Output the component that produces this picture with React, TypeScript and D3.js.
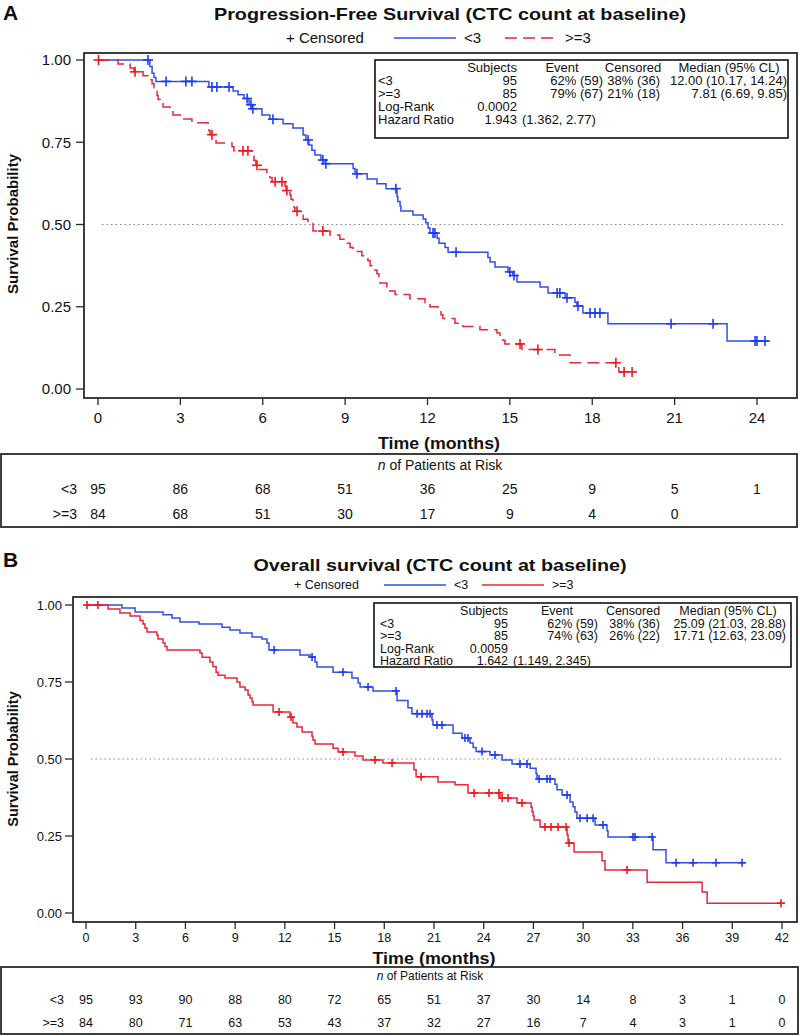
import React from 'react';
import * as d3 from 'd3';

// ---------------- DATA ----------------
// Panel A: Progression-free survival. Steps are [time (months), survival after drop]
const pfsLowSteps: [number, number][] = [
  [1.89, 0.98], [1.97, 0.96], [2.04, 0.947], [2.11, 0.935], [4.04, 0.918], [4.92, 0.906], [5.1, 0.894],
  [5.32, 0.883], [5.5, 0.864], [5.61, 0.852], [5.97, 0.833], [6.26, 0.82], [6.74, 0.806], [7.1, 0.793],
  [7.47, 0.772], [7.57, 0.757], [7.68, 0.742], [7.79, 0.726], [7.9, 0.711], [8.12, 0.696], [8.27, 0.685],
  [9.29, 0.67], [9.36, 0.654], [9.8, 0.638], [10.16, 0.624], [10.49, 0.609], [10.89, 0.584], [10.92, 0.57],
  [11.0, 0.556], [11.03, 0.541], [11.47, 0.529], [11.84, 0.517], [11.94, 0.505], [12.02, 0.489],
  [12.09, 0.474], [12.35, 0.458], [12.42, 0.443], [12.64, 0.43], [12.75, 0.416], [14.2, 0.4], [14.28, 0.386],
  [14.46, 0.371], [14.93, 0.356], [15.11, 0.345], [15.26, 0.325], [16.1, 0.31], [16.39, 0.292],
  [17.01, 0.277], [17.37, 0.264], [17.44, 0.252], [17.66, 0.231], [18.57, 0.198], [22.91, 0.146],
];
const pfsLowCensor: number[] = [
  1.82, 2.48, 3.2, 3.42, 4.15, 4.33, 4.77, 5.43, 5.57, 5.64, 6.37, 7.65, 8.19, 8.3, 9.43, 10.85, 12.2, 12.27,
  13.04, 15.0, 15.15, 16.72, 16.82, 17.08, 17.48, 17.92, 18.1, 18.28, 20.87, 22.4, 23.93, 24.0, 24.29,
];
const pfsLowEnd = 24.4;

const pfsHighSteps: [number, number][] = [
  [0.73, 0.988], [1.17, 0.976], [1.31, 0.964], [1.64, 0.952], [1.82, 0.94], [1.97, 0.928], [2.04, 0.916],
  [2.08, 0.904], [2.15, 0.892], [2.19, 0.88], [2.26, 0.868], [2.37, 0.857], [2.62, 0.845], [2.73, 0.833],
  [3.06, 0.821], [3.42, 0.809], [4.01, 0.797], [4.04, 0.785], [4.08, 0.773], [4.26, 0.76], [4.3, 0.748],
  [4.88, 0.736], [4.95, 0.724], [5.61, 0.708], [5.68, 0.695], [5.75, 0.68], [5.83, 0.667], [6.15, 0.655],
  [6.26, 0.643], [6.34, 0.63], [6.81, 0.617], [6.85, 0.603], [6.99, 0.59], [7.03, 0.577], [7.1, 0.564],
  [7.14, 0.552], [7.17, 0.54], [7.36, 0.528], [7.47, 0.516], [7.65, 0.504], [7.83, 0.48], [8.45, 0.468],
  [8.81, 0.455], [8.99, 0.443], [9.18, 0.43], [9.29, 0.418], [9.61, 0.405], [9.83, 0.39], [9.91, 0.375],
  [9.98, 0.362], [10.16, 0.35], [10.23, 0.335], [10.27, 0.322], [10.52, 0.31], [10.63, 0.298],
  [10.82, 0.287], [11.36, 0.274], [11.91, 0.262], [12.09, 0.25], [12.38, 0.238], [12.49, 0.226],
  [12.56, 0.214], [13.0, 0.2], [13.29, 0.19], [13.91, 0.18], [14.53, 0.17], [14.64, 0.16], [14.75, 0.148],
  [14.82, 0.137], [15.44, 0.12], [16.64, 0.103], [17.19, 0.08], [18.97, 0.052],
];
const pfsHighCensor: number[] = [
  0.02, 1.35, 4.15, 5.28, 5.46, 5.79, 6.45, 6.7, 6.88, 7.25, 8.19, 15.37, 16.02, 18.86, 19.16, 19.45,
];
const pfsHighEnd = 19.48;

// Panel B: Overall survival
const osLowSteps: [number, number][] = [
  [2.17, 0.99], [2.96, 0.977], [4.65, 0.968], [5.19, 0.958], [5.67, 0.945], [6.82, 0.938], [8.21, 0.928],
  [8.69, 0.919], [9.29, 0.909], [10.02, 0.896], [10.62, 0.89], [10.92, 0.877], [11.04, 0.854],
  [12.91, 0.838], [13.52, 0.831], [13.82, 0.815], [13.94, 0.799], [14.91, 0.782], [16.05, 0.763],
  [16.42, 0.747], [16.54, 0.734], [17.32, 0.721], [18.77, 0.69], [19.43, 0.666], [19.67, 0.647],
  [20.88, 0.627], [20.94, 0.61], [22.15, 0.584], [22.69, 0.568], [23.17, 0.552], [23.36, 0.537],
  [23.54, 0.524], [24.38, 0.513], [25.11, 0.497], [25.71, 0.484], [26.8, 0.47], [27.16, 0.452],
  [27.22, 0.435], [28.3, 0.418], [28.42, 0.4], [28.73, 0.383], [29.21, 0.36], [29.39, 0.345],
  [29.51, 0.328], [29.63, 0.308], [30.72, 0.286], [31.44, 0.267], [31.5, 0.247], [34.22, 0.205],
  [35.0, 0.163],
];
const osLowCensor: number[] = [
  11.35, 13.64, 15.51, 17.02, 18.71, 19.98, 20.28, 20.58, 20.76, 21.18, 21.48, 22.87, 23.05, 23.9, 24.68,
  26.19, 26.61, 27.34, 27.82, 28.0, 29.03, 29.81, 30.24, 30.6, 31.2, 33.01, 33.13, 34.16, 35.61, 36.63,
  38.02, 39.59,
];
const osLowEnd = 39.77;

const osHighSteps: [number, number][] = [
  [1.33, 0.987], [2.05, 0.974], [2.66, 0.964], [3.26, 0.95], [3.44, 0.938], [3.56, 0.925], [3.68, 0.912],
  [4.28, 0.902], [4.35, 0.89], [4.65, 0.877], [4.77, 0.865], [4.89, 0.854], [6.88, 0.844], [7.0, 0.83],
  [7.48, 0.815], [7.66, 0.8], [7.85, 0.782], [7.97, 0.772], [8.39, 0.763], [9.11, 0.75], [9.29, 0.734],
  [9.6, 0.724], [9.78, 0.708], [9.9, 0.698], [10.02, 0.686], [10.08, 0.675], [11.29, 0.653],
  [12.31, 0.636], [12.49, 0.617], [12.73, 0.604], [13.04, 0.588], [13.64, 0.574], [13.7, 0.562],
  [13.82, 0.549], [14.91, 0.535], [15.21, 0.523], [16.23, 0.51], [16.72, 0.497], [17.92, 0.487],
  [19.79, 0.465], [19.92, 0.442], [21.24, 0.425], [22.27, 0.416], [23.05, 0.39], [24.98, 0.373],
  [26.01, 0.357], [26.86, 0.343], [26.92, 0.329], [26.98, 0.316], [27.04, 0.302], [27.4, 0.279],
  [29.03, 0.253], [29.09, 0.227], [29.45, 0.198], [31.14, 0.17], [31.32, 0.14], [33.86, 0.1],
  [37.18, 0.068], [37.48, 0.032],
];
const osHighCensor: number[] = [
  0.06, 0.72, 11.65, 12.37, 15.51, 17.44, 18.47, 20.22, 23.42, 24.32, 24.92, 25.11, 25.47, 26.31, 27.7,
  28.06, 28.49, 28.97, 29.15, 32.65, 41.94,
];
const osHighEnd = 41.94;

// Tick labels / risk tables
const pfsTicks = [0, 3, 6, 9, 12, 15, 18, 21, 24];
const osTicks = [0, 3, 6, 9, 12, 15, 18, 21, 24, 27, 30, 33, 36, 39, 42];
const yTicks = [0, 0.25, 0.5, 0.75, 1.0];
const groups = ['<3', '>=3'];
const pfsRiskLow = [95, 86, 68, 51, 36, 25, 9, 5, 1];
const pfsRiskHigh = [84, 68, 51, 30, 17, 9, 4, 0];
const osRiskLow = [95, 93, 90, 88, 80, 72, 65, 51, 37, 30, 14, 8, 3, 1, 0];
const osRiskHigh = [84, 80, 71, 63, 53, 43, 37, 32, 27, 16, 7, 4, 3, 1, 0];

// Summary statistics
const statsHeader = ['Subjects', 'Event', 'Censored', 'Median (95% CL)'];
const pfsStats = [
  ['<3', '95', '62% (59)', '38% (36)', '12.00 (10.17, 14.24)'],
  ['>=3', '85', '79% (67)', '21% (18)', '7.81 (6.69, 9.85)'],
];
const pfsLogRank = '0.0002';
const pfsHR = ['1.943', '(1.362, 2.77)'];
const osStats = [
  ['<3', '95', '62% (59)', '38% (36)', '25.09 (21.03, 28.88)'],
  ['>=3', '85', '74% (63)', '26% (22)', '17.71 (12.63, 23.09)'],
];
const osLogRank = '0.0059';
const osHR = ['1.642', '(1.149, 2.345)'];

// ---------------- STYLE ----------------
const BLUE = '#3050e4';
const RED = '#e62838';
const BLUE_M = '#1f3cf0';
const RED_M = '#f01818';
const SANS = "'Liberation Sans', Arial, Helvetica, sans-serif";
const NARROW = "'Liberation Sans Narrow', 'Arial Narrow', 'Liberation Sans', Arial, sans-serif";
const FRAME = '#2a2a2a';

function survivalAt(steps: [number, number][], t: number) {
  let s = 1;
  for (const [ts, v] of steps) if (ts <= t + 1e-9) s = v;
  return s;
}

type Curve = { steps: [number, number][]; censor: number[]; end: number; color: string; mark: string; dash?: string };

function Panel(p: any) {
  const x = d3.scaleLinear().domain([0, p.xMax]).range(p.xRange);
  const y = d3.scaleLinear().domain([0, 1]).range(p.yRange);
  const [fx0, fy0, fx1, fy1] = p.frame;
  const line = d3
    .line<[number, number]>()
    .x((d) => x(d[0]))
    .y((d) => y(d[1]))
    .curve(d3.curveStepAfter);
  const st = p.stats;
  const [lx0, lx1, lx2, lx3, lx4] = p.legendX;
  return (
    <g>
      <text x={3} y={p.letterY} fontFamily={SANS} fontWeight="bold" fontSize={21} fill="#111">{p.letter}</text>
      <text x={p.titleX} y={p.titleY} textAnchor="middle" fontFamily={SANS} fontWeight="bold" fontSize={p.titleSize}
        textLength={p.titleLen} lengthAdjust="spacingAndGlyphs" fill="#111">{p.title}</text>
      {/* legend */}
      <text x={lx0} y={p.legendY} dy="0.35em" fontFamily={SANS} fontSize={p.legendSize} fill="#111">+ Censored</text>
      <line x1={lx1} x2={lx1 + 62} y1={p.legendY} y2={p.legendY} stroke={BLUE} strokeWidth={1.6} />
      <text x={lx2} y={p.legendY} dy="0.35em" fontFamily={SANS} fontSize={p.legendSize} fill="#111">{groups[0]}</text>
      <line x1={lx3} x2={lx3 + (p.legendDash ? 50 : 62)} y1={p.legendY} y2={p.legendY} stroke={RED} strokeWidth={1.6}
        strokeDasharray={p.legendDash ? '12,6' : undefined} />
      <text x={lx4} y={p.legendY} dy="0.35em" fontFamily={SANS} fontSize={p.legendSize} fill="#111">{groups[1]}</text>

      {/* frame */}
      <rect x={fx0} y={fy0} width={fx1 - fx0} height={fy1 - fy0} fill="none" stroke={FRAME} strokeWidth={1.8} />
      {/* y axis */}
      {yTicks.map((t) => (
        <g key={'y' + t}>
          <line x1={fx0 - p.yTickLen} x2={fx0} y1={y(t)} y2={y(t)} stroke={FRAME} strokeWidth={1.3} />
          <text x={p.yLabelRight} y={y(t)} dy="0.36em" textAnchor="end" fontFamily={SANS} fontSize={p.ySize} fill="#111">
            {t.toFixed(2)}
          </text>
        </g>
      ))}
      <text transform={`translate(13,${p.ylabY}) rotate(-90)`} textAnchor="middle" dy="0.35em" fontFamily={SANS}
        fontWeight="bold" fontSize={p.ylabSize} fill="#111">Survival Probability</text>
      {/* x axis */}
      {p.ticks.map((t: number) => (
        <g key={'x' + t}>
          <line x1={x(t)} x2={x(t)} y1={fy1} y2={fy1 + 7} stroke={FRAME} strokeWidth={1.3} />
          <text x={x(t)} y={p.tickLabelY} dy="0.36em" textAnchor="middle" fontFamily={p.tickFont} fontSize={p.tickSize} fill="#111">{t}</text>
        </g>
      ))}
      <text x={p.timeX} y={p.timeY} textAnchor="middle" dy="0.35em" fontFamily={SANS} fontWeight="bold" fontSize={p.timeSize}
        textLength={p.timeLen} lengthAdjust="spacingAndGlyphs" fill="#111">Time (months)</text>

      {/* reference line */}
      <line x1={p.dotted[0]} x2={p.dotted[1]} y1={y(0.5)} y2={y(0.5)} stroke="#888" strokeWidth={1.2} strokeDasharray="1.5,3" />

      {/* curves */}
      {p.curves.map((c: Curve, i: number) => {
        const last = c.steps[c.steps.length - 1][1];
        const pts: [number, number][] = [[0, 1], ...c.steps, [c.end, last]];
        return (
          <g key={'c' + i}>
            <path d={line(pts) || ''} fill="none" stroke={c.color} strokeWidth={1.5} strokeDasharray={c.dash} />
            {c.censor.map((t, j) => {
              const cx = x(t);
              const cy = y(survivalAt(c.steps, t));
              const h = p.markHalf;
              return (
                <g key={j} stroke={c.mark} strokeWidth={1.6}>
                  <line x1={cx - h} x2={cx + h} y1={cy} y2={cy} />
                  <line x1={cx} x2={cx} y1={cy - h} y2={cy + h} />
                </g>
              );
            })}
          </g>
        );
      })}

      {/* stats box */}
      <rect x={st.box[0]} y={st.box[1]} width={st.box[2] - st.box[0]} height={st.box[3] - st.box[1]} fill="white"
        stroke="#111" strokeWidth={1.6} />
      <g fontFamily={SANS} fontSize={st.size} fill="#111">
        {statsHeader.map((h, i) => (
          <text key={h} x={i === 0 ? st.subjRight : st.headCenters[i]} y={st.rowsY[0]} dy="0.35em"
            textAnchor={i === 0 ? 'end' : 'middle'}>{h}</text>
        ))}
        {st.rows.map((r: string[], i: number) => (
          <g key={'r' + i}>
            <text x={st.labelX} y={st.rowsY[i + 1]} dy="0.35em">{r[0]}</text>
            <text x={st.subjRight} y={st.rowsY[i + 1]} dy="0.35em" textAnchor="end">{r[1]}</text>
            <text x={st.eventRight} y={st.rowsY[i + 1]} dy="0.35em" textAnchor="end">{r[2]}</text>
            <text x={st.censRight} y={st.rowsY[i + 1]} dy="0.35em" textAnchor="end">{r[3]}</text>
            <text x={st.medRight} y={st.rowsY[i + 1]} dy="0.35em" textAnchor="end">{r[4]}</text>
          </g>
        ))}
        <text x={st.labelX} y={st.rowsY[3]} dy="0.35em">Log-Rank</text>
        <text x={st.subjRight} y={st.rowsY[3]} dy="0.35em" textAnchor="end">{st.logRank}</text>
        <text x={st.labelX} y={st.rowsY[4]} dy="0.35em">Hazard Ratio</text>
        <text x={st.subjRight} y={st.rowsY[4]} dy="0.35em" textAnchor="end">{st.hr[0]}</text>
        <text x={st.subjRight + 5} y={st.rowsY[4]} dy="0.35em">{st.hr[1]}</text>
      </g>

      {/* risk table */}
      <rect x={p.risk.box[0]} y={p.risk.box[1]} width={p.risk.box[2] - p.risk.box[0]} height={p.risk.box[3] - p.risk.box[1]}
        fill="none" stroke={FRAME} strokeWidth={1.8} />
      <text x={p.risk.headX} y={p.risk.headY} dy="0.35em" textAnchor="middle" fontFamily={SANS} fontSize={p.risk.headSize} fill="#111">
        <tspan fontStyle="italic">n</tspan> of Patients at Risk
      </text>
      {p.risk.data.map((row: number[], i: number) => (
        <g key={'rk' + i} fontFamily={p.tickFont} fontSize={p.risk.size} fill="#111">
          <text x={p.risk.labelRight} y={p.risk.rowsY[i]} dy="0.36em" textAnchor="end">{groups[i]}</text>
          {row.map((v, j) => (
            <text key={j} x={x(p.ticks[j])} y={p.risk.rowsY[i]} dy="0.36em" textAnchor="middle">{v}</text>
          ))}
        </g>
      ))}
    </g>
  );
}

export default function App() {
  return (
    <svg width={800} height={1036} style={{ position: 'absolute', left: 0, top: 0, background: 'white' }}>
      <rect width={800} height={1036} fill="white" />
      <Panel
        letter="A" letterY={20}
        title="Progression-Free Survival (CTC count at baseline)" titleX={450} titleY={20} titleSize={17} titleLen={472}
        legendY={38} legendSize={15} legendX={[286, 394, 464, 505, 565]} legendDash={true}
        frame={[84, 53, 797, 398]} xRange={[98, 757]} xMax={24} yRange={[389, 60]}
        ticks={pfsTicks} tickLabelY={418} tickSize={15} tickFont={NARROW}
        yLabelRight={71} ySize={15} yTickLen={8}
        ylabY={224} ylabSize={15}
        timeX={439} timeY={443} timeSize={17} timeLen={122}
        risk={{ box: [1, 454, 797, 527], headX: 440, headY: 465, headSize: 14, rowsY: [489, 514], labelRight: 77, size: 14, data: [pfsRiskLow, pfsRiskHigh] }}
        stats={{ box: [375, 60, 788, 138], rowsY: [67, 80, 93, 106, 119], size: 13, labelX: 378, subjRight: 517, eventRight: 603, censRight: 660, medRight: 787, headCenters: [0, 562, 633, 729], rows: pfsStats, logRank: pfsLogRank, hr: pfsHR }}
        curves={[
          { steps: pfsLowSteps, censor: pfsLowCensor, end: pfsLowEnd, color: BLUE, mark: BLUE_M },
          { steps: pfsHighSteps, censor: pfsHighCensor, end: pfsHighEnd, color: RED, mark: RED_M, dash: '12,6' },
        ]}
        markHalf={5}
        dotted={[102, 783]}
      />
      <Panel
        letter="B" letterY={567}
        title="Overall survival (CTC count at baseline)" titleX={440} titleY={571} titleSize={16} titleLen={373}
        legendY={585} legendSize={12.5} legendX={[294, 384, 454, 482, 552]} legendDash={false}
        frame={[73, 597, 797, 922]} xRange={[86, 782]} xMax={42} yRange={[913, 605]}
        ticks={osTicks} tickLabelY={937} tickSize={12.5} tickFont={NARROW}
        yLabelRight={62} ySize={13} yTickLen={8}
        ylabY={759} ylabSize={14.5}
        timeX={434} timeY={958} timeSize={17} timeLen={123}
        risk={{ box: [1, 967, 798, 1034], headX: 430, headY: 976, headSize: 12, rowsY: [999, 1022], labelRight: 64, size: 12.5, data: [osRiskLow, osRiskHigh] }}
        stats={{ box: [374, 603, 791, 667], rowsY: [611, 623.5, 636, 648.5, 661], size: 12.5, labelX: 380, subjRight: 508, eventRight: 598, censRight: 660, medRight: 786, headCenters: [0, 557, 633, 728], rows: osStats, logRank: osLogRank, hr: osHR }}
        curves={[
          { steps: osLowSteps, censor: osLowCensor, end: osLowEnd, color: BLUE, mark: BLUE_M },
          { steps: osHighSteps, censor: osHighCensor, end: osHighEnd, color: RED, mark: RED_M },
        ]}
        markHalf={4}
        dotted={[91, 783]}
      />
    </svg>
  );
}
